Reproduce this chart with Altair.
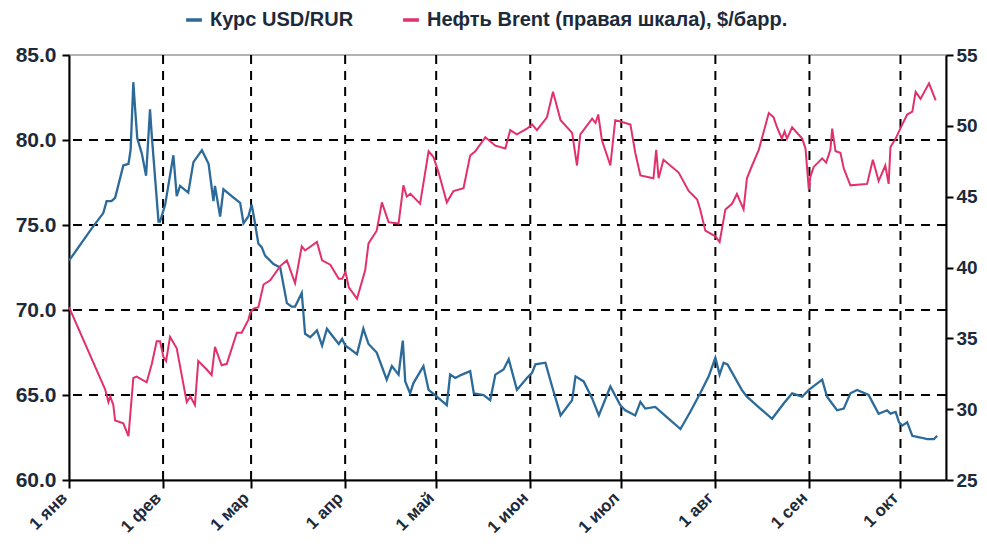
import altair as alt
import pandas as pd

# --- data (days since 1 Jan 2016) ---
usd_day = [0, 7.5, 11.3, 12.4, 14, 15.2, 17.9, 19.6, 20.3, 21.2,
           21.8, 22.5, 24, 25.4, 26.7, 27.3, 29.5, 30, 31.7, 34.4,
           35.5, 36.6, 39.3, 41, 43.8, 46, 47.6, 48.1, 49.8, 50.9,
           53.6, 56.4, 57.5, 59.1, 60.2, 61.3, 62.4, 63.5, 64.6, 67.4,
           69.6, 71.8, 73.4, 74.5, 76.7, 77.8, 79.5, 81.7, 83.4, 85,
           86.7, 88.9, 90, 91.1, 92.7, 94.9, 97, 98.7, 101.4, 104.7,
           106.4, 108.6, 110, 110.8, 112.4, 113.5, 116.8, 118.5, 121.2, 124.5,
           125.6, 127.3, 129.5, 132.2, 133.4, 136.6, 138.8, 140.5, 143.2, 144.9,
           147.6, 150.9, 152.6, 153.7, 157, 159.2, 162, 165.8, 166.9, 169.6,
           172.4, 174.6, 178.4, 181.7, 183.3, 186.6, 188.3, 189.9, 193.2, 197,
           201.5, 204.7, 208, 210.8, 213, 214.4, 215.7, 217, 221.7, 223.4,
           227.8, 231.7, 235.5, 238.3, 241.6, 243.8, 248.2, 249.8, 253.1, 255.3,
           257.5, 259.7, 263.5, 266.8, 269.6, 270.7, 272.4, 273.5, 274.6, 276.2,
           277.9, 280.6, 282.8, 285, 286.1]
usd_val = [72.9, 74.8, 75.7, 76.4, 76.4, 76.6, 78.5, 78.6, 79.4, 83.4,
           81.8, 80.1, 79.2, 77.9, 81.8, 80.2, 75.2, 75.2, 76.2, 79.1,
           76.7, 77.3, 76.9, 78.7, 79.4, 78.6, 76.4, 77.3, 75.5, 77.1,
           76.7, 76.3, 75.1, 75.5, 76.2, 75.1, 73.9, 73.7, 73.2, 72.7,
           72.5, 70.4, 70.2, 70.2, 71.0, 68.6, 68.4, 68.8, 67.9, 68.9,
           68.5, 68.0, 68.3, 67.9, 67.7, 67.4, 68.9, 68.0, 67.5, 65.9,
           66.7, 66.2, 68.2, 65.8, 65.1, 65.7, 66.7, 65.3, 64.9, 64.4,
           66.2, 66.0, 66.2, 66.4, 65.1, 65.0, 64.7, 66.2, 66.5, 67.1,
           65.3, 66.0, 66.3, 66.8, 66.9, 65.5, 63.8, 64.7, 66.1, 65.8,
           64.8, 63.8, 65.5, 64.4, 64.1, 63.8, 64.6, 64.2, 64.3, 63.7,
           63.0, 64.0, 65.1, 66.1, 67.2, 66.2, 66.9, 66.8, 65.3, 64.9,
           64.2, 63.6, 64.5, 65.1, 64.9, 65.3, 65.9, 64.9, 64.1, 64.2,
           65.1, 65.3, 65.0, 63.9, 64.1, 63.9, 64.0, 63.4, 63.2, 63.4,
           62.6, 62.5, 62.4, 62.4, 62.6]

brent_day = [0, 11.9, 13, 13.6, 14.6, 15.2, 17.9, 19.6, 21.2, 22.3,
             25.6, 27.3, 28.9, 30, 31.1, 32, 33.3, 35.5, 38.8, 40,
             41.5, 42.6, 45.4, 47, 48.1, 50.3, 52, 55.3, 56.9, 59.1,
             59.7, 60.8, 62.4, 64.1, 66.3, 69.6, 71.8, 74.5, 76.7, 77.8,
             81.7, 83.4, 86.1, 88.9, 90, 91.1, 92.2, 94.9, 97.6, 98.7,
             101.4, 103.1, 105.3, 108.6, 110.2, 111.3, 112.5, 115.7, 118.5, 120.1,
             121.8, 124.5, 126.7, 130, 132.2, 133.9, 137.2, 140.5, 143.8, 145.4,
             147.6, 150.9, 152.6, 154.2, 157.5, 159.5, 162, 165.8, 167.4, 168.5,
             172.4, 173.5, 174.4, 175.6, 178.4, 180, 181.7, 185, 186.6, 188.3,
             192.6, 193.5, 194.3, 195.9, 200.9, 204.2, 207, 208, 209.7, 213,
             214.4, 216.3, 218.5, 220.1, 222.3, 223.4, 225.1, 227.3, 230.6, 232.2,
             233.3, 234.9, 235.8, 236.6, 238.3, 241.6, 242.7, 243.8, 244.3, 245.4,
             248.2, 249.5, 250.9, 251.5, 252.6, 254.2, 255.3, 257.5, 263, 264.9,
             266.8, 269, 270.1, 270.7, 272.4, 274.6, 276.2, 277.9, 279, 280.6,
             283.4, 285.6]
brent_val = [37.2, 31.4, 30.5, 30.9, 30.3, 29.2, 29.0, 28.1, 32.2, 32.3,
             31.9, 33.2, 34.8, 34.8, 33.7, 33.4, 35.1, 34.3, 30.5, 30.9,
             30.3, 33.4, 32.8, 32.4, 34.4, 33.1, 33.2, 35.4, 35.4, 36.3,
             36.8, 37.1, 37.2, 38.8, 39.1, 40.1, 40.5, 38.9, 41.5, 41.2,
             41.8, 40.5, 40.2, 39.2, 39.2, 39.7, 38.6, 37.8, 39.8, 41.7,
             42.6, 44.6, 43.2, 43.1, 45.8, 45.0, 45.2, 44.5, 48.2, 47.8,
             46.7, 44.6, 45.4, 45.6, 47.9, 48.2, 49.2, 48.6, 48.4, 49.7,
             49.4, 49.8, 50.1, 49.7, 50.6, 52.4, 50.4, 49.5, 47.2, 49.4,
             50.5, 50.2, 50.8, 49.0, 47.2, 50.4, 50.3, 50.1, 48.1, 46.5,
             46.3, 48.3, 46.3, 47.6, 46.7, 45.4, 44.8, 44.1, 42.6, 42.2,
             41.8, 44.1, 44.5, 45.2, 44.1, 46.3, 47.2, 48.3, 50.9, 50.6,
             49.9, 49.1, 49.6, 49.1, 49.9, 49.1, 48.4, 45.5, 46.4, 47.1,
             47.7, 47.4, 48.3, 49.8, 48.2, 48.1, 47.0, 45.8, 45.9, 47.6,
             46.1, 47.2, 45.9, 48.5, 49.1, 50.1, 50.8, 51.0, 52.4, 51.9,
             53.0, 51.8]

series_names = ["Курс USD/RUR", "Нефть Brent (правая шкала), $/барр."]
series_colors = ["#2c6a9a", "#e2306a"]
month_names = ["янв", "фев", "мар", "апр", "май", "июн", "июл", "авг", "сен", "окт"]
month_starts = ["2016-02-01", "2016-03-01", "2016-04-01", "2016-05-01", "2016-06-01",
                "2016-07-01", "2016-08-01", "2016-09-01", "2016-10-01"]
usd_grid = [65, 70, 75, 80]
usd_ticks = [60, 65, 70, 75, 80, 85]
brent_ticks = [25, 30, 35, 40, 45, 50, 55]
usd_domain = [60, 85]
brent_domain = [25, 55]

assert len(usd_day) == len(usd_val)
assert len(brent_day) == len(brent_val)

base = pd.Timestamp("2016-01-01")
usd_df = pd.DataFrame({"date": base + pd.to_timedelta(usd_day, unit="D"),
                       "value": usd_val, "series": series_names[0]})
brent_df = pd.DataFrame({"date": base + pd.to_timedelta(brent_day, unit="D"),
                         "value": brent_val, "series": series_names[1]})
vgrid_df = pd.DataFrame({"date": pd.to_datetime(month_starts)})
hgrid_df = pd.DataFrame({"value": usd_grid})

TXT = "#1c2a3a"
FONT = "Liberation Sans"

x_scale = alt.Scale(domain=[alt.DateTime(year=2016, month=1, date=1),
                            alt.DateTime(year=2016, month=10, date=16)])
tick_values = [alt.DateTime(year=2016, month=m, date=1) for m in range(1, 11)]
label_expr = "'1 ' + [" + ",".join("'%s'" % m for m in month_names) + "][month(datum.value)]"

x_axis = alt.Axis(values=tick_values, labelExpr=label_expr, labelAngle=-45,
                  labelFontSize=17, tickSize=8, labelPadding=7, labelOffset=-5,
                  labelAlign="right", labelBaseline="middle")
y_axis = alt.Axis(orient="left", values=usd_ticks, format=".1f",
                  labelFontSize=21, tickSize=7, labelPadding=6)

color = alt.Color("series:N",
                  scale=alt.Scale(domain=series_names, range=series_colors),
                  legend=alt.Legend(orient="none", legendX=115, legendY=-45,
                                    direction="horizontal", title=None,
                                    symbolType="stroke", symbolStrokeWidth=3.5,
                                    symbolSize=250, labelFontSize=20,
                                    labelFont=FONT, labelFontWeight="bold",
                                    labelColor=TXT, columnPadding=42,
                                    labelOffset=6, labelLimit=0))

vgrid = alt.Chart(vgrid_df).mark_rule(color="black", strokeWidth=2, strokeDash=[9, 7]).encode(
    x=alt.X("date:T", scale=x_scale, title=None, axis=x_axis))
hgrid = alt.Chart(hgrid_df).mark_rule(color="black", strokeWidth=2, strokeDash=[9, 7]).encode(
    y=alt.Y("value:Q", scale=alt.Scale(domain=usd_domain), title=None, axis=y_axis))

usd_line = alt.Chart(usd_df).mark_line(strokeWidth=2.3).encode(
    x=alt.X("date:T", scale=x_scale, title=None, axis=x_axis),
    y=alt.Y("value:Q", scale=alt.Scale(domain=usd_domain), title=None, axis=y_axis),
    color=color)

brent_line = alt.Chart(brent_df).mark_line(strokeWidth=2).encode(
    x=alt.X("date:T", scale=x_scale, title=None, axis=x_axis),
    y=alt.Y("value:Q", scale=alt.Scale(domain=brent_domain), title=None,
            axis=alt.Axis(orient="right", values=brent_ticks, format="d",
                          labelFontSize=19, tickSize=7, labelPadding=3)),
    color=color)

left = alt.layer(vgrid, hgrid, usd_line)
chart = alt.layer(left, brent_line).resolve_scale(y="independent").properties(
    width=877, height=425, autosize="none",
    padding={"left": 61, "top": 47, "right": 33, "bottom": 62},
).configure_axis(
    labelFont=FONT, labelFontWeight="bold", labelColor=TXT,
    domainColor="black", domainWidth=2, tickColor="black", tickWidth=2, grid=False,
).configure_view(stroke="#9a9a9a", strokeWidth=1.5)

chart.save("out.html", embed_options={"renderer": "svg", "actions": False})
